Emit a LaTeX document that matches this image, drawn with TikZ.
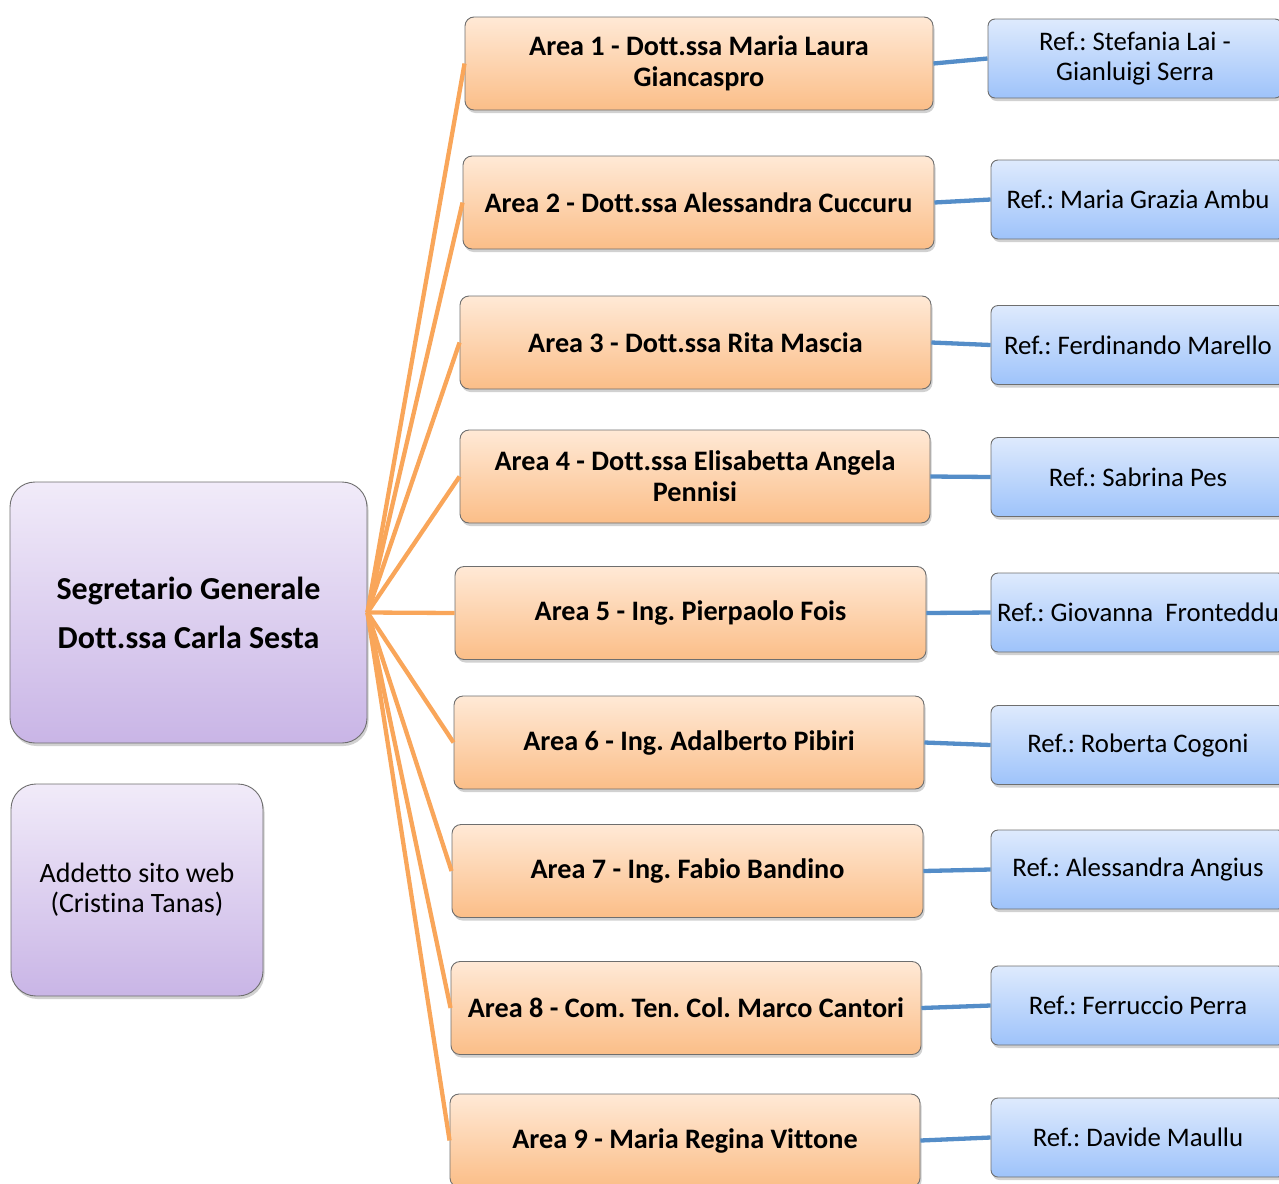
\documentclass[tikz,border=0pt]{standalone}
\usepackage{fontspec}
\setmainfont{Carlito}[Ligatures=NoCommon]
\usetikzlibrary{shadows}
\definecolor{orT}{RGB}{255,233,214}
\definecolor{orB}{RGB}{251,190,136}
\definecolor{puT}{RGB}{241,235,249}
\definecolor{puB}{RGB}{201,181,230}
\definecolor{blT}{RGB}{222,234,253}
\definecolor{blB}{RGB}{158,195,250}
\definecolor{orLine}{RGB}{249,166,90}
\definecolor{blLine}{RGB}{84,141,200}
\definecolor{edge}{RGB}{110,110,110}
\tikzset{
  boxbase/.style={draw=edge, line width=0.9pt, align=center, inner sep=0pt,
    drop shadow={shadow xshift=1.5pt, shadow yshift=-3pt, opacity=0.3, fill=black!60}},
  areabox/.style={boxbase, rounded corners=9pt, top color=orT, bottom color=orB,
    minimum height=93pt, font=\fontsize{28.2}{31}\selectfont\bfseries},
  refbox/.style={boxbase, rounded corners=7pt, top color=blT, bottom color=blB,
    minimum width=294pt, minimum height=79pt, font=\fontsize{26.8}{30}\selectfont},
  chiefbox/.style={boxbase, rounded corners=25pt, top color=puT, bottom color=puB},
  orconn/.style={draw=orLine, line width=4.3pt},
  blconn/.style={draw=blLine, line width=4.3pt},
}
\begin{document}
\frenchspacing
\begin{tikzpicture}[x=1pt,y=-1pt]
\useasboundingbox (0,0) rectangle (1279,1183);
\clip (0,0) rectangle (1279,1183);
% chief and web
\node[chiefbox, minimum width=357pt, minimum height=261pt,
  font=\fontsize{32}{49}\selectfont\bfseries] (sg) at (188.5,612.5)
  {Segretario Generale\\Dott.ssa Carla Sesta};
\node[chiefbox, minimum width=252pt, minimum height=212pt,
  font=\fontsize{28}{30}\selectfont] (web) at (137,890)
  {Addetto sito web\\(Cristina Tanas)};
% areas
\node[areabox, minimum width=468pt] (a1) at (699,63.5) {Area 1 - Dott.ssa Maria Laura\\Giancaspro};
\node[areabox, minimum width=471pt] (a2) at (698.5,202.5) {Area 2 - Dott.ssa Alessandra Cuccuru};
\node[areabox, minimum width=471pt] (a3) at (695.5,342.5) {Area 3 - Dott.ssa Rita Mascia};
\node[areabox, minimum width=470pt] (a4) at (695,476.5) {Area 4 - Dott.ssa Elisabetta Angela\\Pennisi};
\node[areabox, minimum width=471pt] (a5) at (690.5,613) {Area 5 - Ing. Pierpaolo Fois};
\node[areabox, minimum width=470pt] (a6) at (689,742.5) {Area 6 - Ing. Adalberto Pibiri};
\node[areabox, minimum width=471pt] (a7) at (687.5,871) {Area 7 - Ing. Fabio Bandino};
\node[areabox, minimum width=470pt] (a8) at (686,1008) {Area 8 - Com. Ten. Col. Marco Cantori};
\node[areabox, minimum width=470pt] (a9) at (685,1140.5) {Area 9 - Maria Regina Vittone};
% refs
\node[refbox] (r1) at (1135,58.5) {Ref.: Stefania Lai -\\Gianluigi Serra};
\node[refbox] (r2) at (1138,199.5) {Ref.: Maria Grazia Ambu};
\node[refbox] (r3) at (1138,345) {Ref.: Ferdinando Marello};
\node[refbox] (r4) at (1138,477) {Ref.: Sabrina Pes};
\node[refbox] (r5) at (1138,612.5) {Ref.: Giovanna\ \ Fronteddu};
\node[refbox] (r6) at (1138,745) {Ref.: Roberta Cogoni};
\node[refbox] (r7) at (1138,869.5) {Ref.: Alessandra Angius};
\node[refbox] (r8) at (1138,1005.5) {Ref.: Ferruccio Perra};
\node[refbox] (r9) at (1138,1137.5) {Ref.: Davide Maullu};
% connectors
\foreach \i in {1,...,9}{
  \draw[orconn] (sg.east) -- (a\i.west);
  \draw[blconn] (a\i.east) -- (r\i.west);
}
\end{tikzpicture}
\end{document}
